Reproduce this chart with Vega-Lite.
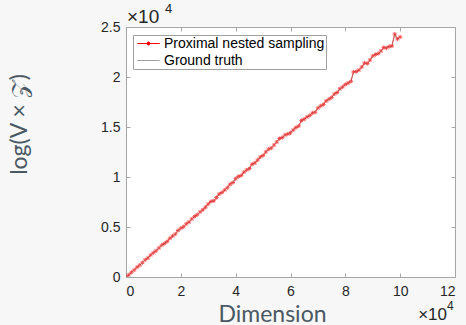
{
  "$schema": "https://vega.github.io/schema/vega-lite/v6.json",
  "width": 329,
  "height": 250,
  "autosize": {"type": "none"},
  "padding": {"left": 126, "top": 27, "right": 11, "bottom": 48},
  "background": "#f7f7f7",
  "config": {
    "view": {"stroke": "#a6a6a6", "fill": "white", "strokeWidth": 1},
    "axis": {
      "domain": false,
      "grid": false,
      "tickColor": "#a6a6a6",
      "tickSize": -4,
      "labelFont": "Liberation Sans",
      "labelFontSize": 14,
      "labelColor": "#262626",
      "titleFont": "Lato",
      "titleFontWeight": "normal",
      "titleFontSize": 23,
      "titleColor": "#4a5863"
    }
  },
  "data": {"values": [
    {"x":0,"p":0,"g":0},{"x":1000,"p":210,"g":230},{"x":2000,"p":470,"g":470},{"x":3000,"p":700,"g":710},{"x":4000,"p":980,"g":960},
    {"x":5000,"p":1180,"g":1190},{"x":6000,"p":1430,"g":1440},{"x":7000,"p":1720,"g":1700},{"x":8000,"p":1900,"g":1920},{"x":9000,"p":2200,"g":2190},
    {"x":10000,"p":2420,"g":2420},{"x":11000,"p":2620,"g":2640},{"x":12000,"p":2900,"g":2890},{"x":13000,"p":3180,"g":3160},{"x":14000,"p":3350,"g":3370},
    {"x":15000,"p":3550,"g":3570},{"x":16000,"p":3870,"g":3850},{"x":17000,"p":4100,"g":4090},{"x":18000,"p":4300,"g":4320},{"x":19000,"p":4650,"g":4620},
    {"x":20000,"p":4880,"g":4870},{"x":21000,"p":5030,"g":5050},{"x":22000,"p":5320,"g":5300},{"x":23000,"p":5500,"g":5520},{"x":24000,"p":5800,"g":5780},
    {"x":25000,"p":6050,"g":6040},{"x":26000,"p":6230,"g":6250},{"x":27000,"p":6500,"g":6490},{"x":28000,"p":6720,"g":6730},{"x":29000,"p":6980,"g":6970},
    {"x":30000,"p":7300,"g":7280},{"x":31000,"p":7550,"g":7520},{"x":32000,"p":7620,"g":7650},{"x":33000,"p":7950,"g":7940},{"x":34000,"p":8300,"g":8270},
    {"x":35000,"p":8450,"g":8460},{"x":36000,"p":8700,"g":8710},{"x":37000,"p":8930,"g":8930},{"x":38000,"p":9280,"g":9250},{"x":39000,"p":9450,"g":9470},
    {"x":40000,"p":9820,"g":9800},{"x":41000,"p":10050,"g":10030},{"x":42000,"p":10150,"g":10180},{"x":43000,"p":10480,"g":10460},{"x":44000,"p":10700,"g":10700},
    {"x":45000,"p":10850,"g":10880},{"x":46000,"p":11280,"g":11250},{"x":47000,"p":11400,"g":11420},{"x":48000,"p":11700,"g":11690},{"x":49000,"p":12000,"g":11980},
    {"x":50000,"p":12150,"g":12170},{"x":51000,"p":12500,"g":12480},{"x":52000,"p":12780,"g":12760},{"x":53000,"p":12900,"g":12920},{"x":54000,"p":13200,"g":13190},
    {"x":55000,"p":13500,"g":13480},{"x":56000,"p":13850,"g":13820},{"x":57000,"p":13950,"g":13970},{"x":58000,"p":14200,"g":14190},{"x":59000,"p":14300,"g":14320},
    {"x":60000,"p":14420,"g":14440},{"x":61000,"p":14700,"g":14690},{"x":62000,"p":14950,"g":14930},{"x":63000,"p":15100,"g":15130},{"x":64000,"p":15650,"g":15600},
    {"x":65000,"p":15780,"g":15790},{"x":66000,"p":16000,"g":16000},{"x":67000,"p":16150,"g":16170},{"x":68000,"p":16400,"g":16390},{"x":69000,"p":16480,"g":16500},
    {"x":70000,"p":16900,"g":16880},{"x":71000,"p":17100,"g":17090},{"x":72000,"p":17250,"g":17270},{"x":73000,"p":17600,"g":17580},{"x":74000,"p":17780,"g":17780},
    {"x":75000,"p":17950,"g":17960},{"x":76000,"p":18300,"g":18280},{"x":77000,"p":18450,"g":18470},{"x":78000,"p":18820,"g":18800},{"x":79000,"p":19000,"g":19010},
    {"x":80000,"p":19250,"g":19240},{"x":81000,"p":19400,"g":19410},{"x":82000,"p":19550,"g":19570},{"x":83000,"p":20500,"g":20450},{"x":84000,"p":20550,"g":20560},
    {"x":85000,"p":20700,"g":20710},{"x":86000,"p":21000,"g":20990},{"x":87000,"p":21400,"g":21380},{"x":88000,"p":21350,"g":21370},{"x":89000,"p":21700,"g":21690},
    {"x":90000,"p":22100,"g":22080},{"x":91000,"p":22250,"g":22260},{"x":92000,"p":22350,"g":22360},{"x":93000,"p":22600,"g":22600},{"x":94000,"p":22950,"g":22930},
    {"x":95000,"p":22900,"g":22920},{"x":96000,"p":23050,"g":23050},{"x":97000,"p":23100,"g":23120},{"x":98000,"p":24300,"g":24250},{"x":99000,"p":23800,"g":23820},
    {"x":100000,"p":24000,"g":24000}
  ]},
  "resolve": {"axis": {"x": "independent", "y": "independent"}},
  "layer": [
    {
      "mark": {"type": "line", "strokeWidth": 1, "clip": true},
      "encoding": {
        "x": {"field": "x", "type": "quantitative", "scale": {"domain": [0, 120000], "nice": false},
          "axis": {"values": [0,20000,40000,60000,80000,100000,120000], "labelExpr": "datum.value/10000", "labelPadding": 11, "title": "Dimension", "titleX": 146, "titleY": 44, "titleBaseline": "alphabetic", "titleAnchor": "middle"}},
        "y": {"field": "p", "type": "quantitative", "scale": {"domain": [0, 25000], "nice": false},
          "axis": {"values": [0,5000,10000,15000,20000,25000], "labelExpr": "datum.value/10000", "labelPadding": 10, "title": "log(V × 𝒵)", "titleX": -100, "titleY": 97, "titleAngle": -90, "titleBaseline": "alphabetic", "titleAlign": "center"}},
        "color": {"datum": "Proximal nested sampling", "type": "nominal",
          "scale": {"domain": ["Proximal nested sampling", "Ground truth"], "range": ["#ff0000", "#a0a0a0"]},
          "legend": {"orient": "none", "legendX": 7, "legendY": 8, "title": null,
            "symbolType": "M-1.6,0L1.6,0", "symbolSize": 196, "symbolStrokeWidth": 1, "symbolOffset": 7,
            "labelFont": "Liberation Sans", "labelFontSize": 14, "labelColor": "#000000", "labelOffset": 8, "labelLimit": 0,
            "strokeColor": "#a0a0a0", "fillColor": "white", "padding": 1, "rowPadding": 2, "cornerRadius": 0,
            "encode": {"symbols": {"update": {"shape": {"signal": "datum.value === 'Ground truth' ? 'M-1.6,0L1.6,0' : 'M-1.6,0L1.6,0M-0.3,0L0.3,0M0,-0.3L0,0.3M-0.21,-0.21L0.21,0.21M-0.21,0.21L0.21,-0.21'"}}}}}}
      }
    },
    {
      "mark": {"type": "point", "shape": "M-1,0L1,0M0,-1L0,1M-0.7,-0.7L0.7,0.7M-0.7,0.7L0.7,-0.7", "size": 18, "strokeWidth": 0.9, "filled": false, "color": "#ff0000", "clip": true},
      "encoding": {
        "x": {"field": "x", "type": "quantitative", "axis": null},
        "y": {"field": "p", "type": "quantitative", "axis": null}
      }
    },
    {
      "mark": {"type": "line", "strokeWidth": 0.6, "clip": true},
      "encoding": {
        "x": {"field": "x", "type": "quantitative", "axis": {"orient": "top", "values": [0,20000,40000,60000,80000,100000,120000], "labels": false, "title": null}},
        "y": {"field": "g", "type": "quantitative", "axis": {"orient": "right", "values": [0,5000,10000,15000,20000,25000], "labels": false, "title": null}},
        "color": {"datum": "Ground truth", "type": "nominal"}
      }
    },
    {
      "data": {"values": [{"t": "×10"}]},
      "mark": {"type": "text", "align": "left", "baseline": "alphabetic", "dx": 1, "dy": -4, "font": "Liberation Sans", "fontSize": 19, "fill": "#262626"},
      "encoding": {
        "text": {"field": "t"},
        "x": {"datum": 0, "type": "quantitative", "axis": null},
        "y": {"datum": 25000, "type": "quantitative", "axis": null}
      }
    },
    {
      "data": {"values": [{"t": "4"}]},
      "mark": {"type": "text", "align": "left", "baseline": "alphabetic", "dx": 39, "dy": -14, "font": "Liberation Sans", "fontSize": 13, "fill": "#262626"},
      "encoding": {
        "text": {"field": "t"},
        "x": {"datum": 0, "type": "quantitative", "axis": null},
        "y": {"datum": 25000, "type": "quantitative", "axis": null}
      }
    },
    {
      "data": {"values": [{"t": "×10"}]},
      "mark": {"type": "text", "align": "right", "baseline": "alphabetic", "dx": -8, "dy": 43, "font": "Liberation Sans", "fontSize": 17, "fill": "#262626"},
      "encoding": {
        "text": {"field": "t"},
        "x": {"datum": 120000, "type": "quantitative", "axis": null},
        "y": {"datum": 0, "type": "quantitative", "axis": null}
      }
    },
    {
      "data": {"values": [{"t": "4"}]},
      "mark": {"type": "text", "align": "left", "baseline": "alphabetic", "dx": -8, "dy": 33, "font": "Liberation Sans", "fontSize": 12, "fill": "#262626"},
      "encoding": {
        "text": {"field": "t"},
        "x": {"datum": 120000, "type": "quantitative", "axis": null},
        "y": {"datum": 0, "type": "quantitative", "axis": null}
      }
    }
  ]
}
